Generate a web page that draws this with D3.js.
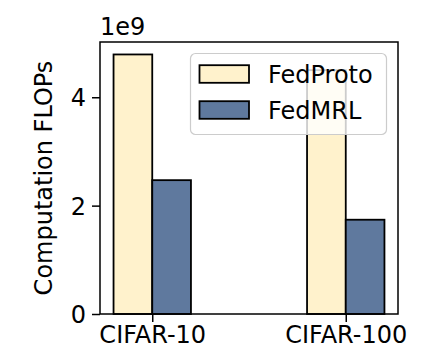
<!DOCTYPE html>
<html>
<head>
<meta charset="utf-8">
<script src="https://cdn.jsdelivr.net/npm/d3@7"></script>
<style>
  body { margin: 0; background: #fff; }
  svg text { font-family: 'DejaVu Sans', sans-serif; fill: #000; }
</style>
</head>
<body>
<div id="chart"></div>
<script>
// data (in units of 1e9 FLOPs)
var datasets = ['CIFAR-10', 'CIFAR-100']
var methods = ['FedProto', 'FedMRL']
var fedProto = [4.79, 4.50]
var fedMRL = [2.47, 1.74]
var yTicks = [0, 2, 4]

var colors = { FedProto: '#fff2cc', FedMRL: '#5f799e' }

var width = 443
var height = 354
var margin = { top: 42, left: 100, bottom: 40, right: 45 }
var chartWidth = width - margin.left - margin.right
var chartHeight = height - margin.top - margin.bottom
var fontSize = 24
var barW = 0.2

var series = [
  { name: 'FedProto', values: fedProto, offset: -barW },
  { name: 'FedMRL', values: fedMRL, offset: 0 }
]

var svg = d3.select('#chart').append('svg')
  .attr('width', width)
  .attr('height', height)

var g = svg.append('g')
  .attr('transform', 'translate(' + margin.left + ',' + margin.top + ')')

var yMax = d3.max(fedProto.concat(fedMRL)) * 1.048
var x = d3.scaleLinear().domain([-0.27, datasets.length - 1 + 0.27]).range([0, chartWidth])
var y = d3.scaleLinear().domain([0, yMax]).range([chartHeight, 0])

// bars
series.forEach(function (s) {
  g.append('g')
    .attr('class', 'bars ' + s.name)
    .selectAll('rect')
    .data(s.values)
    .enter().append('rect')
      .attr('x', function (d, i) { return x(i + s.offset) })
      .attr('y', function (d) { return y(d) })
      .attr('width', x(barW) - x(0))
      .attr('height', function (d) { return chartHeight - y(d) })
      .attr('fill', colors[s.name])
      .attr('stroke', '#000')
      .attr('stroke-width', 1.8)
})

// axes frame
g.append('rect')
  .attr('width', chartWidth)
  .attr('height', chartHeight)
  .attr('fill', 'none')
  .attr('stroke', '#000')
  .attr('stroke-width', 1.5)

var yAxis = g.append('g')
  .call(d3.axisLeft(y).tickValues(yTicks).tickSize(8).tickPadding(6).tickFormat(d3.format('d')))
yAxis.select('.domain').remove()
yAxis.selectAll('line').attr('stroke-width', 1.5)
yAxis.selectAll('text')
  .style('font-size', fontSize + 'px')
  .style('font-family', 'DejaVu Sans')
  .attr('dy', '0.35em')

var xAxis = g.append('g')
  .attr('transform', 'translate(0,' + chartHeight + ')')
  .call(d3.axisBottom(x).tickValues(d3.range(datasets.length)).tickSize(8).tickPadding(4)
    .tickFormat(function (d) { return datasets[d] }))
xAxis.select('.domain').remove()
xAxis.selectAll('line').attr('stroke-width', 1.5)
xAxis.selectAll('text')
  .style('font-size', fontSize + 'px')
  .style('font-family', 'DejaVu Sans')

// offset text
g.append('text')
  .attr('x', 0)
  .attr('y', -7)
  .style('font-size', fontSize + 'px')
  .text('1e9')

// y label
svg.append('text')
  .attr('transform', 'translate(52,' + (margin.top + chartHeight / 2) + ') rotate(-90)')
  .attr('text-anchor', 'middle')
  .style('font-size', fontSize + 'px')
  .text('Computation FLOPs')

// legend
var legend = g.append('g')
  .attr('transform', 'translate(' + (chartWidth - 208) + ',11)')

legend.append('rect')
  .attr('x', 0.5)
  .attr('y', 0.5)
  .attr('width', 196)
  .attr('height', 81)
  .attr('rx', 5)
  .attr('fill', '#fff')
  .attr('fill-opacity', 0.8)
  .attr('stroke', '#cccccc')
  .attr('stroke-width', 1.2)

var items = legend.selectAll('g.item')
  .data(methods)
  .enter().append('g')
    .attr('class', 'item')
    .attr('transform', function (d, i) { return 'translate(0,' + (21 + i * 36) + ')' })

items.append('rect')
  .attr('x', 9.5)
  .attr('y', -8.8)
  .attr('width', 49.5)
  .attr('height', 17.6)
  .attr('fill', function (d) { return colors[d] })
  .attr('stroke', '#000')
  .attr('stroke-width', 1.8)

items.append('text')
  .attr('x', 78)
  .attr('y', 8.6)
  .style('font-size', fontSize + 'px')
  .text(function (d) { return d })
</script>
</body>
</html>
